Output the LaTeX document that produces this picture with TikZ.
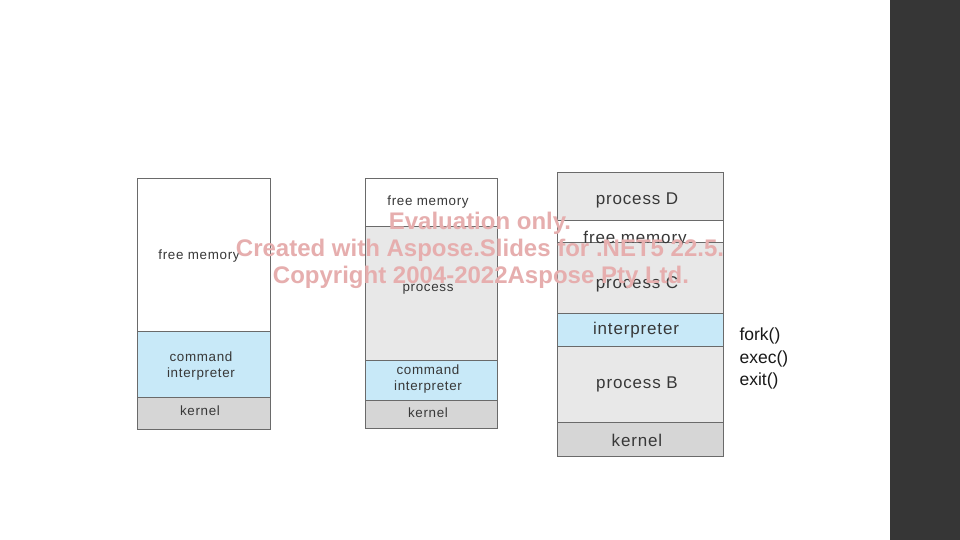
\documentclass[tikz,border=0pt]{standalone}
\usepackage{fontspec}
\setmainfont{Liberation Sans}
\newfontfamily\boxfont[LetterSpace=5]{Liberation Sans}
\definecolor{bluefill}{HTML}{C8E9F8}
\definecolor{procfill}{HTML}{E8E8E8}
\definecolor{kernfill}{HTML}{D6D6D6}
\definecolor{edge}{HTML}{6A6A6A}
\definecolor{sidebar}{HTML}{363636}
\definecolor{wm}{HTML}{E6AEAE}
\begin{document}
\begin{tikzpicture}[x=1pt,y=-1pt,
  seg/.style={draw=edge,line width=0.7pt},
  lbl/.style={font=\boxfont\fontsize{13.4}{15.5}\selectfont,text=black!78,align=center},
  lblb/.style={font=\boxfont\fontsize{17}{19}\selectfont,text=black!78,align=center},
  sys/.style={font=\fontsize{17.5}{21}\selectfont,text=black!90,anchor=west},
  wmark/.style={font=\bfseries\fontsize{24}{28}\selectfont,text=wm}]
\useasboundingbox (0,0) rectangle (960,540);
\fill[white] (0,0) rectangle (960,540);
\fill[sidebar] (890,0) rectangle (960,540);
% column 1
\filldraw[seg,fill=white] (137,178) rectangle (270,331);
\filldraw[seg,fill=bluefill] (137,331) rectangle (270,397);
\filldraw[seg,fill=kernfill] (137,397) rectangle (270,429);
\node[lbl] (c1free) at (199,256) {free memory};
\node[lbl] (c1cmd) at (201,366) {command\\interpreter};
\node[lbl] (c1kern) at (200,411) {kernel};
% column 2
\filldraw[seg,fill=white] (365,178) rectangle (497,226);
\filldraw[seg,fill=procfill] (365,226) rectangle (497,360);
\filldraw[seg,fill=bluefill] (365,360) rectangle (497,400);
\filldraw[seg,fill=kernfill] (365,400) rectangle (497,428);
\node[lbl] (c2free) at (428,202) {free memory};
\node[lbl] (c2proc) at (428,289) {process};
\node[lbl] (c2cmd) at (428,379) {command\\interpreter};
\node[lbl] (c2kern) at (428,413) {kernel};
% column 3
\filldraw[seg,fill=procfill] (557,172) rectangle (723,220);
\filldraw[seg,fill=white] (557,220) rectangle (723,242);
\filldraw[seg,fill=procfill] (557,242) rectangle (723,313);
\filldraw[seg,fill=bluefill] (557,313) rectangle (723,346);
\filldraw[seg,fill=procfill] (557,346) rectangle (723,422);
\filldraw[seg,fill=kernfill] (557,422) rectangle (723,456);
\node[lblb] (c3d) at (637,200) {process D};
\node[lblb] (c3free) at (635,239) {free memory};
\node[lblb] (c3c) at (637,284) {process C};
\node[lblb] (c3int) at (636,330) {interpreter};
\node[lblb] (c3b) at (637,384) {process B};
\node[lblb] (c3kern) at (637,440) {kernel};
\node[sys] (fork) at (736,336) {fork()};
\node[sys] (exec) at (736,359) {exec()};
\node[sys] (exit) at (736,381) {exit()};
% watermark
\node[wmark] (wm1) at (480,223) {Evaluation only.};
\node[wmark] (wm2) at (480,250) {Created with Aspose.Slides for .NET5 22.5.};
\node[wmark] (wm3) at (481,277) {Copyright 2004-2022Aspose Pty Ltd.};
\end{tikzpicture}
\end{document}
